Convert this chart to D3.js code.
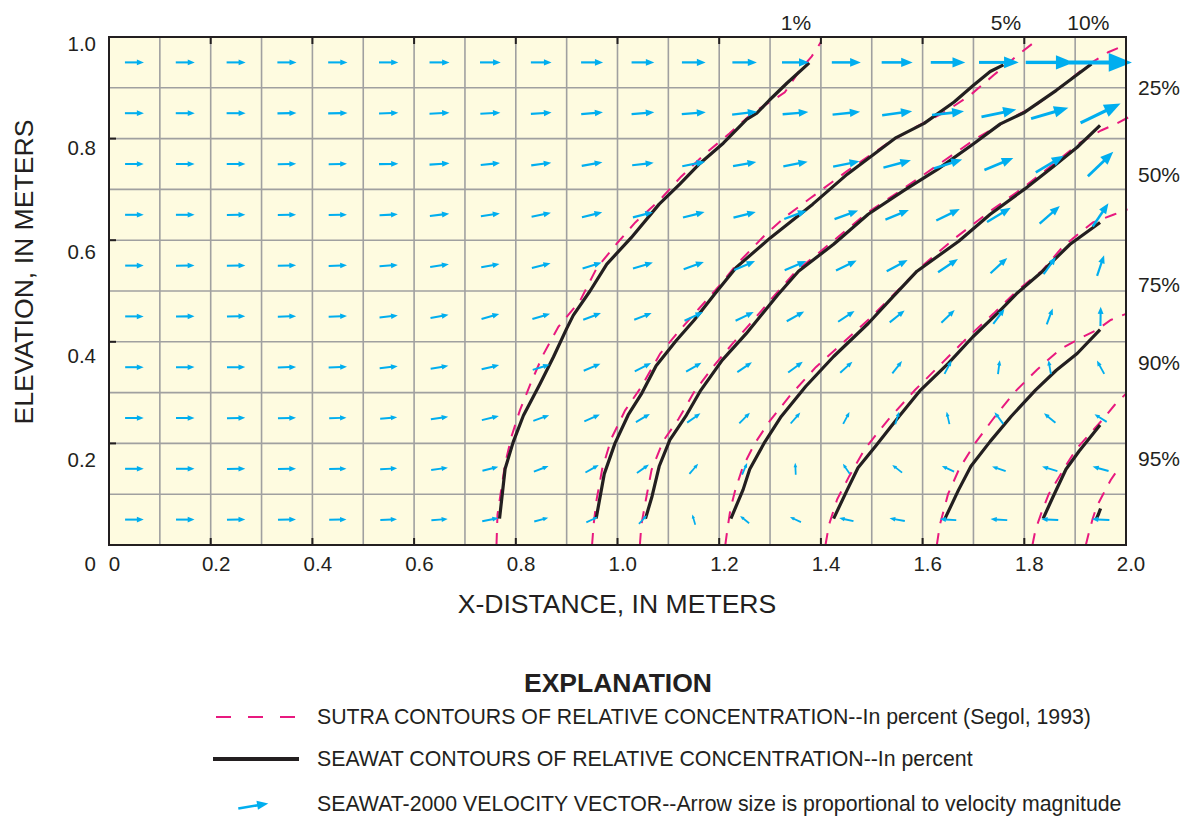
<!DOCTYPE html>
<html>
<head>
<meta charset="utf-8">
<script src="https://cdn.jsdelivr.net/npm/d3@7"></script>
<style>
  body { margin: 0; background: #ffffff; }
  text { font-family: "Liberation Sans", Arial, Helvetica, sans-serif; fill: #231f20; }
</style>
</head>
<body>
<svg id="chart" width="1189" height="816"></svg>
<script>
// ---------------------------------------------------------------------------
// Axis ticks and labels
// ---------------------------------------------------------------------------
const xTicks = [0, 0.2, 0.4, 0.6, 0.8, 1.0, 1.2, 1.4, 1.6, 1.8, 2.0];
const yTicks = [0, 0.2, 0.4, 0.6, 0.8, 1.0];
const xTitle = "X-DISTANCE, IN METERS";
const yTitle = "ELEVATION, IN METERS";

// Model cell centres (0.1 m grid, 20 columns x 10 layers, top layer first)
const colCenters = [0.05, 0.15, 0.25, 0.35, 0.45, 0.55, 0.65, 0.75, 0.85, 0.95,
                    1.05, 1.15, 1.25, 1.35, 1.45, 1.55, 1.65, 1.75, 1.85, 1.95];
const rowCenters = [0.95, 0.85, 0.75, 0.65, 0.55, 0.45, 0.35, 0.25, 0.15, 0.05];

// ---------------------------------------------------------------------------
// SEAWAT-2000 velocity vectors, horizontal (vx) and vertical (vz) components,
// relative units; one row per model layer, top layer first
// ---------------------------------------------------------------------------
const vx = [
  [19, 19, 19, 19.2, 19.3, 19.3, 20, 20.7, 20.7, 22, 22.7, 23.7, 24.5, 27, 29, 31, 34.5, 39.7, 48, 62.7],
  [19, 19, 19, 19, 19.3, 19.3, 20, 20, 20.7, 21.7, 22.7, 24, 25, 25.7, 27.5, 30, 32, 34.8, 37.3, 40],
  [18.7, 18.7, 18.7, 18.5, 18.3, 19.3, 20, 19.3, 20, 20.7, 21.5, 23, 23.2, 24.3, 26.4, 27.5, 28.3, 28.9, 27.9, 25.4],
  [18.7, 18.7, 18.5, 18.3, 18.3, 18.3, 19.3, 19, 19.3, 20.3, 20, 21.6, 22.3, 22.5, 23.6, 23.5, 23.5, 23.7, 20.2, 15.7],
  [18.5, 18.5, 18.5, 18.3, 18.3, 18.3, 18.7, 18.3, 18.7, 19, 19.9, 20.2, 20.9, 21.6, 20.6, 20.9, 19.9, 16.7, 12.2, 7],
  [18.5, 18.5, 18.3, 18.3, 18.3, 18.3, 18, 17.7, 17.7, 17.7, 17.4, 18.5, 18.1, 17.4, 16.4, 14.9, 13.3, 11.2, 6, 0.3],
  [18.5, 18.5, 18.3, 18.3, 18.3, 18, 17.7, 17.5, 17, 16.7, 16.3, 15.3, 14.6, 14.6, 12.2, 9.7, 7, 1.8, -2.4, -7.3],
  [18.7, 18.5, 18.3, 18, 17.3, 17, 17.3, 17, 15.8, 15.5, 14, 13.3, 10.6, 9.6, 6.3, 3.9, -2.8, -8.7, -11.5, -12.2],
  [18.7, 18.5, 18.3, 18, 17.3, 17, 16.7, 15.8, 14.7, 13.3, 12, 8.7, 5, -0.5, -6.8, -9.8, -12.2, -13.6, -15.3, -16],
  [18.7, 18.5, 18.3, 18, 17.3, 16.7, 16.3, 16.3, 14, 11.5, 8, -3, -9, -11, -14.3, -15.3, -16.5, -16.7, -17, -17.6]
];
const vz = [
  [0, 0, 0, 0, 0, 0, 0, 0, 0, 0, 0, 0, 0, 0, 0, 0, 0, 0, 0, 0],
  [0, 0, 0, 0.3, 0.3, 0.7, 1, 1, 1.3, 2, 2, 2, 3, 2.2, 2.8, 4, 3.7, 7.3, 11, 19.3],
  [0, 0, 0.2, 0.3, 0.3, 0.3, 1.3, 2, 2.7, 3.7, 2.5, 4.5, 4.2, 4.7, 5.3, 7.3, 9, 12, 16.7, 24.3],
  [0, 0, 0.3, 0.3, 0.3, 1, 2.3, 2.7, 4, 5, 5.2, 5.5, 5.8, 8.3, 8.7, 9.5, 11.5, 14.3, 17.7, 23.3],
  [0, 0.2, 0.3, 0.5, 0.7, 1.3, 2.7, 3.3, 4.7, 6, 6, 7.3, 9, 9.3, 10, 11.3, 13.3, 15.3, 17.3, 20.7],
  [0, 0.2, 0.3, 0.5, 0.7, 2, 3.3, 5, 5.3, 6.7, 6.7, 8.7, 8.7, 9.7, 10.7, 12, 12.7, 15, 16, 19.3],
  [0, 0.2, 0.3, 0.5, 0.7, 2, 3, 4.3, 5.3, 7, 8.3, 9, 9.8, 10.7, 11, 12.3, 13.3, 14, 14, 13.3],
  [0, 0.2, 0.3, 0.5, 0.7, 1.7, 2.7, 4.2, 5.7, 6.8, 8.2, 9.3, 10.7, 11, 11.8, 12.7, 12.3, 11.7, 9.3, 7.7],
  [0, 0, 0.2, 0.3, 0.3, 1, 2.3, 4, 5.5, 7.5, 8.5, 10, 11.5, 12, 10, 7.7, 5.7, 4.8, 4.5, 4.5],
  [0, 0, 0.2, 0.2, 0.3, 0.7, 1.3, 3.3, 3.8, 5.5, 8.5, 10.3, 7.3, 5, 3, 2.7, 1, 1, 1, 1]
];
const legendVector = [30, 5];

// ---------------------------------------------------------------------------
// SEAWAT contours of relative concentration, [x, elevation] in metres
// ---------------------------------------------------------------------------
const seawat1 = [[0.768,0.052],[0.779,0.150],[0.795,0.203],[0.815,0.255],[0.848,0.318],[0.874,0.370],[0.900,0.426],[0.913,0.452],[0.946,0.500],[0.979,0.553],[1.027,0.605],[1.082,0.671],[1.123,0.711],[1.162,0.751],[1.208,0.791],[1.254,0.838],[1.274,0.850],[1.299,0.876],[1.333,0.909],[1.377,0.949]];
const seawat5 = [[0.958,0.052],[0.974,0.140],[0.995,0.200],[1.021,0.256],[1.048,0.299],[1.076,0.353],[1.116,0.403],[1.151,0.443],[1.192,0.495],[1.233,0.546],[1.301,0.605],[1.384,0.671],[1.452,0.730],[1.548,0.802],[1.603,0.830],[1.662,0.872],[1.700,0.905],[1.733,0.932],[1.759,0.945]];
const seawat10 = [[1.055,0.052],[1.068,0.096],[1.082,0.155],[1.103,0.207],[1.134,0.253],[1.164,0.305],[1.206,0.364],[1.253,0.416],[1.315,0.492],[1.356,0.539],[1.425,0.592],[1.493,0.651],[1.562,0.697],[1.630,0.740],[1.699,0.789],[1.753,0.829],[1.801,0.852],[1.863,0.895],[1.932,0.947]];
const seawat25 = [[1.223,0.052],[1.247,0.109],[1.260,0.149],[1.288,0.200],[1.322,0.253],[1.370,0.312],[1.425,0.371],[1.493,0.436],[1.541,0.488],[1.589,0.539],[1.671,0.598],[1.733,0.651],[1.801,0.701],[1.856,0.744],[1.904,0.783],[1.949,0.826]];
const seawat50 = [[1.425,0.052],[1.452,0.109],[1.473,0.152],[1.507,0.194],[1.548,0.246],[1.596,0.305],[1.651,0.358],[1.699,0.410],[1.747,0.456],[1.785,0.495],[1.836,0.539],[1.890,0.592],[1.949,0.635]];
const seawat75 = [[1.644,0.052],[1.671,0.109],[1.695,0.155],[1.733,0.204],[1.774,0.253],[1.822,0.305],[1.863,0.344],[1.904,0.377],[1.949,0.424]];
const seawat90 = [[1.837,0.052],[1.857,0.096],[1.882,0.149],[1.908,0.185],[1.949,0.236]];
const seawat95 = [[1.942,0.052],[1.946,0.061],[1.950,0.072]];

// SUTRA contours of relative concentration (Segol, 1993), [x, elevation] in metres
const sutra1 = [[0.762,0.0],[0.764,0.06],[0.770,0.10],[0.779,0.16],[0.792,0.215],[0.808,0.265],[0.830,0.320],[0.853,0.373],[0.884,0.43],[0.926,0.48],[0.959,0.545],[1.0,0.595],[1.035,0.635],[1.084,0.68],[1.125,0.725],[1.170,0.768],[1.22,0.81],[1.265,0.85],[1.306,0.876],[1.329,0.891],[1.359,0.935],[1.382,0.962],[1.40,0.99]];
const sutra5 = [[0.950,0.0],[0.953,0.04],[0.959,0.09],[0.970,0.15],[0.988,0.21],[1.015,0.265],[1.046,0.31],[1.084,0.377],[1.12,0.42],[1.16,0.465],[1.20,0.51],[1.235,0.553],[1.29,0.61],[1.33,0.646],[1.377,0.681],[1.45,0.735],[1.53,0.79],[1.585,0.822],[1.64,0.85],[1.693,0.885],[1.74,0.925],[1.788,0.965],[1.82,0.99]];
const sutra10 = [[1.044,0.0],[1.047,0.04],[1.056,0.09],[1.067,0.148],[1.090,0.205],[1.120,0.248],[1.150,0.30],[1.188,0.351],[1.225,0.395],[1.265,0.44],[1.305,0.487],[1.35,0.538],[1.42,0.595],[1.49,0.653],[1.56,0.70],[1.63,0.748],[1.705,0.80],[1.77,0.838],[1.82,0.864],[1.87,0.90],[1.925,0.945],[1.965,0.970],[2.0,0.985]];
const sutra25 = [[1.212,0.0],[1.216,0.03],[1.222,0.07],[1.232,0.11],[1.247,0.155],[1.27,0.20],[1.30,0.245],[1.34,0.295],[1.39,0.35],[1.44,0.395],[1.495,0.445],[1.55,0.50],[1.60,0.55],[1.665,0.605],[1.73,0.655],[1.80,0.705],[1.86,0.752],[1.91,0.792],[1.951,0.816],[1.978,0.828],[2.005,0.842]];
const sutra50 = [[1.409,0.0],[1.416,0.04],[1.432,0.09],[1.456,0.136],[1.487,0.19],[1.535,0.25],[1.585,0.305],[1.64,0.36],[1.69,0.41],[1.74,0.456],[1.785,0.50],[1.835,0.54],[1.873,0.584],[1.896,0.604],[1.935,0.635],[1.975,0.65],[2.003,0.661]];
const sutra75 = [[1.628,0.0],[1.634,0.04],[1.650,0.10],[1.672,0.15],[1.703,0.20],[1.74,0.25],[1.78,0.30],[1.825,0.345],[1.87,0.385],[1.916,0.41],[1.942,0.423],[1.97,0.443],[2.0,0.455]];
const sutra90 = [[1.816,0.0],[1.822,0.03],[1.836,0.07],[1.848,0.10],[1.866,0.13],[1.884,0.16],[1.903,0.19],[1.93,0.22],[1.955,0.248],[1.978,0.276],[2.0,0.298]];
const sutra95 = [[1.921,0.0],[1.926,0.02],[1.934,0.05],[1.942,0.075],[1.955,0.10],[1.970,0.128],[1.985,0.150]];

// Contour labels: text with the distance (top edge) or elevation (right edge) they sit at
const topLabels = [["1%", 1.351], ["5%", 1.764], ["10%", 1.926]];
const rightLabels = [["25%", 0.900], ["50%", 0.729], ["75%", 0.512], ["90%", 0.360], ["95%", 0.171]];

const legendTitle = "EXPLANATION";
const legendItems = [
  "SUTRA CONTOURS OF RELATIVE CONCENTRATION--In percent (Segol, 1993)",
  "SEAWAT CONTOURS OF RELATIVE CONCENTRATION--In percent",
  "SEAWAT-2000 VELOCITY VECTOR--Arrow size is proportional to velocity magnitude"
];

// ---------------------------------------------------------------------------
// Layout and scales
// ---------------------------------------------------------------------------
const svg = d3.select("#chart");
const plot = { left: 109, right: 1126, top: 37, bottom: 545 };
const x = d3.scaleLinear().domain([0, 2]).range([plot.left, plot.right]);
const y = d3.scaleLinear().domain([0, 1]).range([plot.bottom, plot.top]);
// tick labels sit on a slightly wider spacing than the tick marks
const xLabel = d3.scaleLinear().domain([0, 2]).range([114, 1130.5]);
const yLabel = d3.scaleLinear().domain([0, 1]).range([563, 43.3]);
// velocity units -> arrow length in pixels
const vLen = d3.scaleLinear().domain([0, 1]).range([0, 1]);

const INK = "#231f20", CYAN = "#00aeef", MAGENTA = "#e8197f";

// background and grid
svg.append("rect")
  .attr("x", plot.left).attr("y", plot.top)
  .attr("width", plot.right - plot.left).attr("height", plot.bottom - plot.top)
  .attr("fill", "#fefbe0");

const gridX = d3.range(1, 20).map(i => i / 10);
const gridY = d3.range(1, 10).map(i => i / 10);
const grid = svg.append("g").attr("stroke", "#a0a0a0").attr("stroke-width", 1.6);
grid.selectAll("line.gx").data(gridX).join("line")
  .attr("x1", d => x(d)).attr("x2", d => x(d))
  .attr("y1", plot.top).attr("y2", plot.bottom);
grid.selectAll("line.gy").data(gridY).join("line")
  .attr("y1", d => y(d)).attr("y2", d => y(d))
  .attr("x1", plot.left).attr("x2", plot.right);

// ---------------------------------------------------------------------------
// Contours: SUTRA (dashed magenta) under SEAWAT (solid black)
// ---------------------------------------------------------------------------
const line = d3.line().x(d => x(d[0])).y(d => y(d[1]));
const sutra = [sutra1, sutra5, sutra10, sutra25, sutra50, sutra75, sutra90, sutra95];
const seawat = [seawat1, seawat5, seawat10, seawat25, seawat50, seawat75, seawat90, seawat95];

svg.append("g").selectAll("path").data(sutra).join("path")
  .attr("d", line).attr("fill", "none")
  .attr("stroke", MAGENTA).attr("stroke-width", 2)
  .attr("stroke-dasharray", "12,10");

svg.append("g").selectAll("path").data(seawat).join("path")
  .attr("d", line).attr("fill", "none")
  .attr("stroke", INK).attr("stroke-width", 3.2)
  .attr("stroke-linejoin", "round");

// ---------------------------------------------------------------------------
// Velocity arrows, centred on each cell
// ---------------------------------------------------------------------------
function drawArrow(g, cx, cy, u, w) {
  const dx = vLen(u), dy = -vLen(w);
  const L = Math.hypot(dx, dy);
  if (L === 0) return;
  const ux = dx / L, uy = dy / L;
  const tipX = cx + dx / 2, tipY = cy + dy / 2;
  const tailX = cx - dx / 2, tailY = cy - dy / 2;
  const head = 0.37 * L, half = 0.15 * L;
  const bx = tipX - ux * head, by = tipY - uy * head;
  g.append("line")
    .attr("x1", tailX).attr("y1", tailY)
    .attr("x2", bx + ux * 1).attr("y2", by + uy * 1)
    .attr("stroke", CYAN).attr("stroke-width", 1.2 + 0.045 * L);
  g.append("path")
    .attr("d", `M${tipX},${tipY}L${bx - uy * half},${by + ux * half}L${bx + uy * half},${by - ux * half}Z`)
    .attr("fill", CYAN);
}

const arrows = svg.append("g");
rowCenters.forEach((zc, r) => {
  colCenters.forEach((xc, c) => {
    drawArrow(arrows, x(xc), y(zc), vx[r][c], vz[r][c]);
  });
});

// ---------------------------------------------------------------------------
// Frame, inward ticks, axes
// ---------------------------------------------------------------------------
svg.append("rect")
  .attr("x", plot.left).attr("y", plot.top)
  .attr("width", plot.right - plot.left).attr("height", plot.bottom - plot.top)
  .attr("fill", "none").attr("stroke", INK).attr("stroke-width", 2);

const ticks = svg.append("g").attr("stroke", INK).attr("stroke-width", 2);
const innerX = xTicks.filter(d => d > 0 && d < 2);
const innerY = yTicks.filter(d => d > 0 && d < 1);
ticks.selectAll("line.tb").data(innerX).join("line")
  .attr("x1", d => x(d)).attr("x2", d => x(d))
  .attr("y1", plot.bottom).attr("y2", plot.bottom - 7);
ticks.selectAll("line.tt").data(innerX).join("line")
  .attr("x1", d => x(d)).attr("x2", d => x(d))
  .attr("y1", plot.top).attr("y2", plot.top + 7);
ticks.selectAll("line.tl").data(innerY).join("line")
  .attr("y1", d => y(d)).attr("y2", d => y(d))
  .attr("x1", plot.left).attr("x2", plot.left + 7);

const fmt = d => d === 0 ? "0" : d3.format(".1f")(d);

const gx = svg.append("g").attr("transform", "translate(0,556)")
  .call(d3.axisBottom(xLabel).tickValues(xTicks).tickSize(0).tickPadding(0).tickFormat(fmt));
const gy = svg.append("g").attr("transform", "translate(96,1)")
  .call(d3.axisLeft(yLabel).tickValues(yTicks).tickSize(0).tickPadding(0).tickFormat(fmt));
[gx, gy].forEach(g => {
  g.select(".domain").remove();
  g.selectAll("text")
    .attr("font-family", "'Liberation Sans', Arial, Helvetica, sans-serif")
    .attr("font-size", 20.5).attr("fill", INK);
});

svg.append("text")
  .attr("x", 617).attr("y", 613)
  .attr("text-anchor", "middle").attr("font-size", 26.6)
  .text(xTitle);
svg.append("text")
  .attr("transform", "translate(33,272) rotate(-90)")
  .attr("text-anchor", "middle").attr("font-size", 26.6)
  .text(yTitle);

// contour labels
svg.append("g").selectAll("text").data(topLabels).join("text")
  .attr("x", d => x(d[1])).attr("y", 29.5)
  .attr("text-anchor", "middle").attr("font-size", 21)
  .text(d => d[0]);
svg.append("g").selectAll("text").data(rightLabels).join("text")
  .attr("x", 1138).attr("y", d => y(d[1]) + 7.5)
  .attr("font-size", 21)
  .text(d => d[0]);

// ---------------------------------------------------------------------------
// Explanation
// ---------------------------------------------------------------------------
svg.append("text")
  .attr("x", 618).attr("y", 692)
  .attr("text-anchor", "middle").attr("font-size", 26.5).attr("font-weight", "bold")
  .text(legendTitle);

const legendY = [717, 759, 804];
svg.append("line")
  .attr("x1", 216).attr("x2", 298).attr("y1", legendY[0]).attr("y2", legendY[0])
  .attr("stroke", MAGENTA).attr("stroke-width", 2.2).attr("stroke-dasharray", "15,17");
svg.append("line")
  .attr("x1", 213).attr("x2", 299).attr("y1", legendY[1]).attr("y2", legendY[1])
  .attr("stroke", INK).attr("stroke-width", 3.8);
drawArrow(svg.append("g"), 253.3, legendY[2] + 2, legendVector[0], legendVector[1]);

svg.append("g").selectAll("text").data(legendItems).join("text")
  .attr("x", 317).attr("y", (d, i) => legendY[i] + 7.3)
  .attr("font-size", 21.3)
  .text(d => d);
</script>
</body>
</html>
